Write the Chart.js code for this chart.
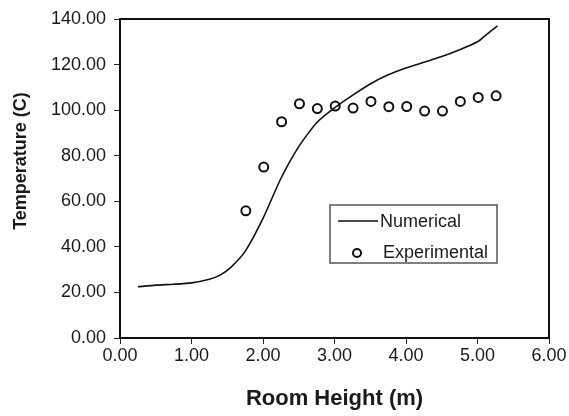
<!DOCTYPE html>
<html>
<head>
<meta charset="utf-8">
<script src="https://cdn.jsdelivr.net/npm/chart.js@4"></script>
<style>
  html, body { margin: 0; padding: 0; background: #fff; }
  #wrap { width: 569px; height: 416px; }
</style>
</head>
<body>
<div id="wrap"><canvas id="grafica" width="569" height="416"></canvas></div>
<script>
// numerical solution (line)
const numX = [0.25, 0.50, 0.75, 1.00, 1.25, 1.40, 1.55, 1.75, 2.00, 2.25, 2.50, 2.75, 3.00, 3.25, 3.50, 3.75, 4.00, 4.25, 4.50, 4.75, 5.00, 5.10, 5.28];
const numY = [22.5, 23.2, 23.6, 24.2, 25.8, 27.6, 31.0, 38.0, 52.5, 70.0, 84.0, 94.5, 101.0, 106.5, 111.5, 115.5, 118.5, 121.0, 123.5, 126.5, 130.0, 132.5, 137.0];
// experimental measurements (circles)
const expX = [1.76, 2.01, 2.26, 2.51, 2.76, 3.01, 3.26, 3.51, 3.76, 4.01, 4.26, 4.51, 4.76, 5.01, 5.26];
const expY = [55.8, 75.0, 94.9, 102.8, 100.7, 101.8, 100.9, 103.8, 101.5, 101.6, 99.6, 99.6, 103.8, 105.6, 106.3];
const xTicks = [0, 1, 2, 3, 4, 5, 6];
const yTicks = [0, 20, 40, 60, 80, 100, 120, 140];

const fam = "'Liberation Sans', Arial, Helvetica, sans-serif";
const ink = "#1a1a1a";

// full box around plot + legend drawn inside the plot
const marco = {
  id: "marco",
  afterDraw(chart) {
    const c = chart.ctx, a = chart.chartArea;
    c.save();
    c.strokeStyle = "#111";
    c.lineWidth = 2;
    c.strokeRect(a.left, a.top, a.right - a.left, a.bottom - a.top);

    // legend
    c.strokeStyle = "#555";
    c.lineWidth = 1.5;
    c.strokeRect(330, 205, 167, 58);
    c.strokeStyle = "#111";
    c.lineWidth = 1.5;
    c.beginPath();
    c.moveTo(338, 221);
    c.lineTo(378, 221);
    c.stroke();
    c.lineWidth = 2;
    c.fillStyle = "#fff";
    c.beginPath();
    c.arc(357, 253, 4, 0, Math.PI * 2);
    c.fill();
    c.stroke();
    c.fillStyle = ink;
    c.font = "18px " + fam;
    c.textBaseline = "middle";
    c.fillText("Numerical", 380, 222);
    c.fillText("Experimental", 383, 253);
    c.restore();
  }
};

const ctx = document.getElementById("grafica").getContext("2d");
new Chart(ctx, {
  type: "scatter",
  data: {
    datasets: [{
      label: "Numerical",
      data: numX.map((x, i) => ({ x: x, y: numY[i] })),
      showLine: true,
      borderColor: "#111",
      borderWidth: 1.6,
      pointRadius: 0,
      tension: 0.2
    }, {
      label: "Experimental",
      data: expX.map((x, i) => ({ x: x, y: expY[i] })),
      showLine: false,
      pointRadius: 4.5,
      pointBorderWidth: 2,
      pointBorderColor: "#111",
      pointBackgroundColor: "#fff"
    }]
  },
  options: {
    responsive: false,
    animation: false,
    layout: { padding: { left: 0, right: 20, top: 19, bottom: 0 } },
    plugins: { legend: { display: false }, tooltip: { enabled: false } },
    scales: {
      x: {
        type: "linear",
        min: 0, max: 6,
        afterBuildTicks: s => { s.ticks = xTicks.map(v => ({ value: v })); },
        afterFit: s => { s.height = 78; },
        ticks: { color: ink, font: { family: fam, size: 18 }, padding: 1,
                 callback: v => v.toFixed(2) },
        grid: { drawOnChartArea: false, color: "#222", tickLength: 6 },
        border: { color: "#111", width: 2 },
        title: { display: true, text: "Room Height (m)", color: ink,
                 font: { family: fam, size: 22, weight: "bold" }, padding: { top: 0, bottom: 4 } }
      },
      y: {
        type: "linear",
        min: 0, max: 140,
        afterBuildTicks: s => { s.ticks = yTicks.map(v => ({ value: v })); },
        afterFit: s => { s.width = 120; },
        ticks: { color: ink, font: { family: fam, size: 18 }, padding: 8,
                 callback: v => v.toFixed(2) },
        grid: { drawOnChartArea: false, color: "#222", tickLength: 6 },
        border: { color: "#111", width: 2 },
        // leading spaces nudge the rotated title upward like the original
        title: { display: true, text: "\u00a0\u00a0\u00a0\u00a0\u00a0\u00a0\u00a0Temperature (C)", color: ink,
                 font: { family: fam, size: 18, weight: "bold" }, padding: { top: 10, bottom: 0 } }
      }
    }
  },
  plugins: [marco]
});
</script>
</body>
</html>
